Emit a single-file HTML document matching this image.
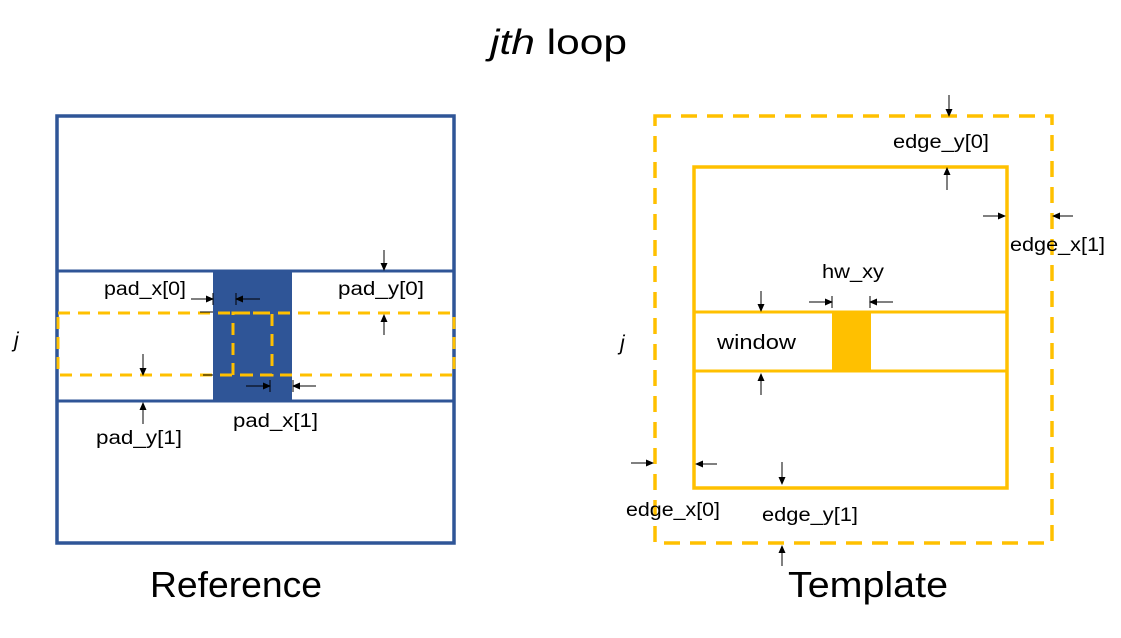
<!DOCTYPE html>
<html><head><meta charset="utf-8"><style>
html,body{margin:0;padding:0;background:#fff;}
svg{display:block;}
text{font-family:"Liberation Sans",sans-serif;fill:#000;}
</style></head><body>
<svg width="1121" height="638" viewBox="0 0 1121 638" xmlns="http://www.w3.org/2000/svg">
<defs>
<marker id="a" markerWidth="8" markerHeight="8" refX="7" refY="4" orient="auto" markerUnits="userSpaceOnUse">
<path d="M0,0.5 L8,4 L0,7.5 Z" fill="#000"/></marker>
</defs>
<text x="490" y="54" font-size="35" textLength="137" lengthAdjust="spacingAndGlyphs"><tspan font-style="italic">jth</tspan> loop</text>

<!-- Reference -->
<rect x="57" y="116" width="397" height="427" fill="none" stroke="#2F5597" stroke-width="3.5"/>
<line x1="57" y1="271" x2="454" y2="271" stroke="#2F5597" stroke-width="3"/>
<line x1="57" y1="401" x2="454" y2="401" stroke="#2F5597" stroke-width="3"/>
<rect x="213" y="271" width="79" height="130" fill="#2F5597"/>
<rect x="58" y="313" width="396" height="62" fill="none" stroke="#FFC000" stroke-width="3" stroke-dasharray="12,8"/>
<rect x="233" y="313" width="39" height="62" fill="none" stroke="#FFC000" stroke-width="3" stroke-dasharray="12,8"/>
<line x1="200" y1="312" x2="213" y2="312" stroke="#000" stroke-width="1"/>
<line x1="203" y1="375" x2="213" y2="375" stroke="#000" stroke-width="1"/>
<g stroke="#000" stroke-width="1" fill="none">
<line x1="384" y1="250" x2="384" y2="270" marker-end="url(#a)"/>
<line x1="384" y1="335" x2="384" y2="315" marker-end="url(#a)"/>
<line x1="191" y1="299" x2="213" y2="299" marker-end="url(#a)"/>
<line x1="213" y1="293" x2="213" y2="305"/>
<line x1="260" y1="299" x2="236" y2="299" marker-end="url(#a)"/>
<line x1="236" y1="293" x2="236" y2="305"/>
<line x1="246" y1="386" x2="270" y2="386" marker-end="url(#a)"/>
<line x1="270" y1="380" x2="270" y2="392"/>
<line x1="316" y1="386" x2="293" y2="386" marker-end="url(#a)"/>
<line x1="293" y1="380" x2="293" y2="392"/>
<line x1="143" y1="354" x2="143" y2="375" marker-end="url(#a)"/>
<line x1="143" y1="424" x2="143" y2="403" marker-end="url(#a)"/>
</g>
<text x="104" y="295" font-size="19" textLength="82" lengthAdjust="spacingAndGlyphs">pad_x[0]</text>
<text x="338" y="295" font-size="19" textLength="86" lengthAdjust="spacingAndGlyphs">pad_y[0]</text>
<text x="233" y="427" font-size="19" textLength="85" lengthAdjust="spacingAndGlyphs">pad_x[1]</text>
<text x="96" y="444" font-size="19" textLength="86" lengthAdjust="spacingAndGlyphs">pad_y[1]</text>
<text x="14" y="347" font-size="21" font-style="italic">j</text>
<text x="150" y="597" font-size="36" textLength="172" lengthAdjust="spacingAndGlyphs">Reference</text>

<!-- Template -->
<rect x="655" y="116" width="397" height="427" fill="none" stroke="#FFC000" stroke-width="3.5" stroke-dasharray="16,10"/>
<rect x="694" y="167" width="313" height="321" fill="none" stroke="#FFC000" stroke-width="3.5"/>
<line x1="694" y1="312" x2="1007" y2="312" stroke="#FFC000" stroke-width="3"/>
<line x1="694" y1="371" x2="1007" y2="371" stroke="#FFC000" stroke-width="3"/>
<rect x="832" y="312" width="39" height="59" fill="#FFC000"/>
<g stroke="#000" stroke-width="1" fill="none">
<line x1="949" y1="95" x2="949" y2="116" marker-end="url(#a)"/>
<line x1="947" y1="190" x2="947" y2="168" marker-end="url(#a)"/>
<line x1="983" y1="216" x2="1005" y2="216" marker-end="url(#a)"/>
<line x1="1073" y1="216" x2="1053" y2="216" marker-end="url(#a)"/>
<line x1="631" y1="463" x2="653" y2="463" marker-end="url(#a)"/>
<line x1="717" y1="464" x2="696" y2="464" marker-end="url(#a)"/>
<line x1="782" y1="462" x2="782" y2="484" marker-end="url(#a)"/>
<line x1="782" y1="566" x2="782" y2="546" marker-end="url(#a)"/>
<line x1="809" y1="302" x2="832" y2="302" marker-end="url(#a)"/>
<line x1="832" y1="296" x2="832" y2="308"/>
<line x1="893" y1="302" x2="870" y2="302" marker-end="url(#a)"/>
<line x1="870" y1="296" x2="870" y2="308"/>
<line x1="761" y1="291" x2="761" y2="311" marker-end="url(#a)"/>
<line x1="761" y1="395" x2="761" y2="374" marker-end="url(#a)"/>
</g>
<text x="893" y="148" font-size="19" textLength="96" lengthAdjust="spacingAndGlyphs">edge_y[0]</text>
<text x="1010" y="251" font-size="19" textLength="95" lengthAdjust="spacingAndGlyphs">edge_x[1]</text>
<text x="822" y="278" font-size="19" textLength="62" lengthAdjust="spacingAndGlyphs">hw_xy</text>
<text x="717" y="349" font-size="20" textLength="79" lengthAdjust="spacingAndGlyphs">window</text>
<text x="620" y="350" font-size="21" font-style="italic">j</text>
<text x="626" y="516" font-size="19" textLength="94" lengthAdjust="spacingAndGlyphs">edge_x[0]</text>
<text x="762" y="521" font-size="19" textLength="96" lengthAdjust="spacingAndGlyphs">edge_y[1]</text>
<text x="788" y="597" font-size="36" textLength="160" lengthAdjust="spacingAndGlyphs">Template</text>
</svg>
</body></html>
